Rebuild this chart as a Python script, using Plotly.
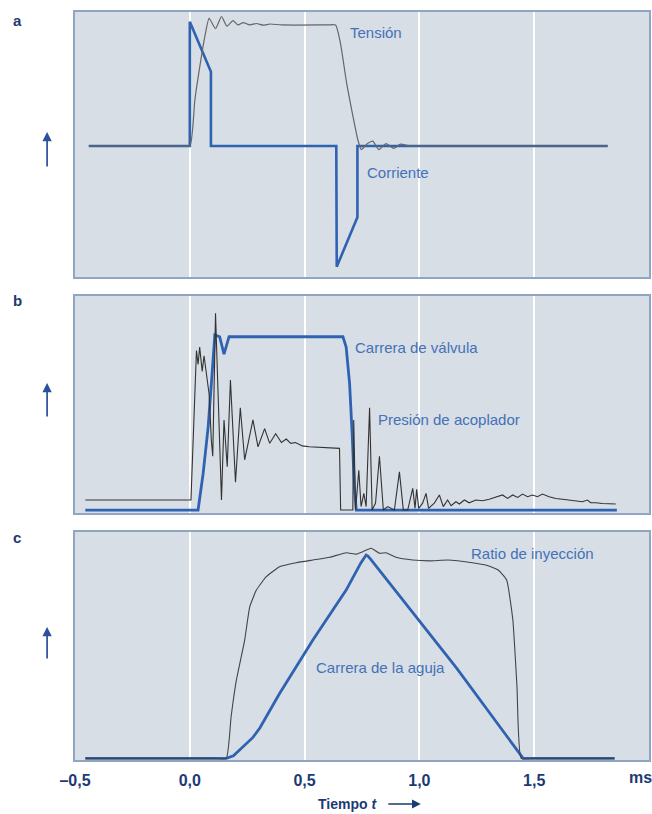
import plotly.graph_objects as go

# ---------------- data ----------------
# Panel a
tension_t = [-0.44, -0.05, 0.0, 0.022, 0.043, 0.065, 0.084, 0.112, 0.138, 0.162, 0.188, 0.21,
             0.232, 0.261, 0.29, 0.32, 0.35, 0.40, 0.60, 0.635, 0.656, 0.683, 0.711, 0.732,
             0.747, 0.774, 0.797, 0.823, 0.855, 0.888, 0.918, 0.955, 1.0, 1.82]
tension_y = [0, 0, 0, 0.38, 0.65, 0.9, 1.055, 0.97, 1.07, 0.99, 1.035, 1.0,
             1.02, 1.0, 1.012, 0.998, 1.008, 1.0, 1.0, 1.0, 0.85, 0.52, 0.24, 0.05,
             -0.03, 0.02, 0.04, -0.03, 0.02, -0.02, 0.015, 0, 0, 0]
current_t = [-0.44, 0.0, 0.0, 0.092, 0.092, 0.638, 0.64, 0.73, 0.73, 1.82]
current_y = [0, 0, 1.027, 0.614, 0, 0, -0.998, -0.59, 0, 0]

# Panel b
valve_t = [-0.455, 0.036, 0.058, 0.08, 0.094, 0.109, 0.13, 0.149, 0.171, 0.667, 0.681,
           0.696, 0.707, 0.717, 0.725, 1.86]
valve_y = [0, 0, 0.21, 0.48, 0.73, 1.01, 1.0, 0.9, 1.0, 1.0, 0.94, 0.73, 0.44, 0.13, 0, 0]
press_t = [-0.455, 0.005, 0.029, 0.036, 0.043, 0.054, 0.062, 0.072, 0.084, 0.094, 0.10, 0.112,
           0.123, 0.138, 0.149, 0.163, 0.177, 0.199, 0.22, 0.239, 0.275, 0.297, 0.326, 0.348,
           0.374, 0.399, 0.42, 0.44, 0.46, 0.49, 0.52, 0.652, 0.657, 0.71, 0.714, 0.722,
           0.736, 0.746, 0.758, 0.768, 0.783, 0.794, 0.809, 0.826, 0.843, 0.862, 0.891, 0.913,
           0.930, 0.949, 0.971, 0.981, 0.988, 0.997, 1.014, 1.029, 1.04, 1.065, 1.087, 1.104,
           1.123, 1.138, 1.159, 1.174, 1.196, 1.217, 1.246, 1.275, 1.304, 1.333, 1.362, 1.384,
           1.406, 1.428, 1.449, 1.471, 1.493, 1.514, 1.536, 1.565, 1.594, 1.623, 1.652, 1.681,
           1.71, 1.732, 1.746, 1.768, 1.797, 1.855]
press_y = [0.058, 0.058, 0.92, 0.84, 0.94, 0.80, 0.89, 0.79, 0.67, 0.40, 0.31, 1.135,
           0.63, 0.058, 0.52, 0.25, 0.75, 0.16, 0.59, 0.29, 0.52, 0.365, 0.47, 0.385,
           0.44, 0.39, 0.41, 0.385, 0.39, 0.37, 0.365, 0.356, 0.0, 0.0, 0.52, 0.0,
           0.23, 0.02, 0.096, 0.02, 0.59, 0.0, 0.04, 0.31, 0.0, 0.02, 0.0, 0.22,
           0.0, 0.0, 0.125, 0.01, 0.12, 0.01, 0.04, 0.096, 0.01, 0.04, 0.087, 0.02,
           0.058, 0.025, 0.048, 0.035, 0.058, 0.042, 0.058, 0.054, 0.062, 0.073, 0.087, 0.067,
           0.087, 0.073, 0.092, 0.077, 0.087, 0.077, 0.092, 0.077, 0.067, 0.062, 0.058, 0.054,
           0.048, 0.058, 0.042, 0.042, 0.038, 0.035]

# Panel c
ratio_t = [-0.455, 0.10, 0.159, 0.18, 0.203, 0.239, 0.261, 0.29, 0.333, 0.391, 0.464, 0.536,
           0.609, 0.681, 0.725, 0.753, 0.79, 0.826, 0.855, 0.899, 0.971, 1.043, 1.126, 1.199,
           1.289, 1.343, 1.38, 1.407, 1.425, 1.443, 1.50, 1.85]
ratio_y = [0, 0, 0, 0.2, 0.375, 0.566, 0.725, 0.805, 0.869, 0.917, 0.936, 0.949,
           0.962, 0.984, 0.977, 0.989, 1.005, 0.981, 0.984, 0.962, 0.949, 0.945, 0.949, 0.941,
           0.925, 0.901, 0.853, 0.662, 0.343, 0, 0, 0]
needle_t = [-0.455, 0.159, 0.19, 0.217, 0.245, 0.275, 0.305, 0.333, 0.36, 0.391, 0.536, 0.681,
            0.745, 0.76, 0.768, 0.776, 0.79, 1.163, 1.452, 1.85]
needle_y = [0, 0, 0.012, 0.04, 0.068, 0.10, 0.145, 0.20, 0.25, 0.31, 0.566, 0.805,
            0.935, 0.962, 0.973, 0.968, 0.95, 0.43, 0, 0]

tick_vals = [-0.5, 0.0, 0.5, 1.0, 1.5]
tick_text = ["–0,5", "0,0", "0,5", "1,0", "1,5"]

# ---------------- style ----------------
BLUE = "#2f63b2"
TXT = "#4471b8"
NAVY = "#1d3a74"
BG = "#d7dee5"
BORDER = "#8fa5c2"
FONT = "Liberation Sans Narrow, Liberation Sans, Arial, sans-serif"

W, H = 652, 814
L, R, T, B = 75, 1, 12, 54
PW, PH = W - L - R, H - T - B


def px(x):
    return (x - L) / PW


def py(y):
    return (H - B - y) / PH


fig = go.Figure()

fig.add_trace(go.Scatter(x=current_t, y=current_y, mode="lines", line=dict(color=BLUE, width=2.6),
                         xaxis="x", yaxis="y", hoverinfo="skip"))
fig.add_trace(go.Scatter(x=tension_t, y=tension_y, mode="lines",
                         line=dict(color="#666666", width=1.2, shape="spline", smoothing=0.5),
                         xaxis="x", yaxis="y", hoverinfo="skip"))

fig.add_trace(go.Scatter(x=valve_t, y=valve_y, mode="lines", line=dict(color=BLUE, width=2.8),
                         xaxis="x2", yaxis="y2", hoverinfo="skip"))
fig.add_trace(go.Scatter(x=press_t, y=press_y, mode="lines", line=dict(color="#333333", width=1.1),
                         xaxis="x2", yaxis="y2", hoverinfo="skip"))

fig.add_trace(go.Scatter(x=needle_t, y=needle_y, mode="lines",
                         line=dict(color=BLUE, width=2.8),
                         xaxis="x3", yaxis="y3", hoverinfo="skip"))
fig.add_trace(go.Scatter(x=ratio_t, y=ratio_y, mode="lines",
                         line=dict(color="#444444", width=1.1, shape="spline", smoothing=0.4),
                         xaxis="x3", yaxis="y3", hoverinfo="skip"))

xcommon = dict(range=[-0.5, 2.0], tickvals=tick_vals, showgrid=True, gridcolor="white",
               gridwidth=1.6, zeroline=False, showline=True, mirror=True, linecolor=BORDER,
               linewidth=1.5, fixedrange=True)
ycommon = dict(showgrid=False, zeroline=False, showticklabels=False, showline=True, mirror=True,
               linecolor=BORDER, linewidth=1.5, fixedrange=True)

dom_a = [py(277), py(12)]
dom_b = [py(513), py(296)]
dom_c = [py(760), py(532)]

fig.update_layout(
    width=W, height=H,
    margin=dict(l=L, r=R, t=T, b=B),
    paper_bgcolor="white", plot_bgcolor=BG,
    showlegend=False,
    font=dict(family=FONT, color=NAVY),
    xaxis=dict(**xcommon, anchor="y", showticklabels=False),
    yaxis=dict(**ycommon, domain=dom_a, range=[-1.083, 1.107], anchor="x"),
    xaxis2=dict(**xcommon, anchor="y2", showticklabels=False, matches="x"),
    yaxis2=dict(**ycommon, domain=dom_b, range=[-0.017, 1.235], anchor="x2"),
    xaxis3=dict(**xcommon, anchor="y3", ticktext=["<b>%s</b>" % t for t in tick_text],
                ticks="outside", ticklen=5, tickcolor="rgba(0,0,0,0)",
                tickfont=dict(family=FONT, size=16, color=NAVY)),
    yaxis3=dict(**ycommon, domain=dom_c, range=[-0.008, 1.083], anchor="x3"),
)

ann = []
# curve labels
labels = [
    ("Tensión", "x", "y", 0.691, 0.934),
    ("Corriente", "x", "y", 0.765, -0.223),
    ("Carrera de válvula", "x2", "y2", 0.709, 0.94),
    ("Presión de acoplador", "x2", "y2", 0.809, 0.52),
    ("Ratio de inyección", "x3", "y3", 1.217, 0.982),
    ("Carrera de la aguja", "x3", "y3", 0.539, 0.437),
]
for text, xr, yr, xv, yv in labels:
    ann.append(dict(text=text, xref=xr, yref=yr, x=xv, y=yv, xanchor="left", yanchor="middle",
                    showarrow=False, font=dict(family=FONT, size=15, color=TXT)))

# panel letters
for letter, yy in [("a", 20), ("b", 300), ("c", 537)]:
    ann.append(dict(text="<b>%s</b>" % letter, xref="paper", yref="paper", x=px(17), y=py(yy),
                    xanchor="center", yanchor="middle", showarrow=False,
                    font=dict(family=FONT, size=15, color=NAVY)))

# vertical arrows
for tip, tail in [(132, 168), (383, 418), (627, 660)]:
    ann.append(dict(text="", xref="paper", yref="paper", x=px(47), y=py(tip), ax=0, ay=tail - tip,
                    showarrow=True, arrowhead=2, arrowsize=1.1, arrowwidth=1.7, arrowcolor="#2b509c"))

# ms unit
ann.append(dict(text="<b>ms</b>", xref="paper", yref="paper", x=px(642), y=py(777),
                xanchor="center", yanchor="middle", showarrow=False,
                font=dict(family=FONT, size=16, color=NAVY)))
# x title
ann.append(dict(text="<b>Tiempo <i>t</i></b>", xref="paper", yref="paper", x=px(380), y=py(804),
                xanchor="right", yanchor="middle", showarrow=False,
                font=dict(family=FONT, size=14, color=NAVY)))
ann.append(dict(text="", xref="paper", yref="paper", x=px(422), y=py(804), ax=-34, ay=0,
                showarrow=True, arrowhead=2, arrowsize=1.1, arrowwidth=1.6, arrowcolor=NAVY))

fig.update_layout(annotations=ann)

fig.write_html("out.html", config={"displayModeBar": False},
               post_script="document.body.style.margin='0';")
